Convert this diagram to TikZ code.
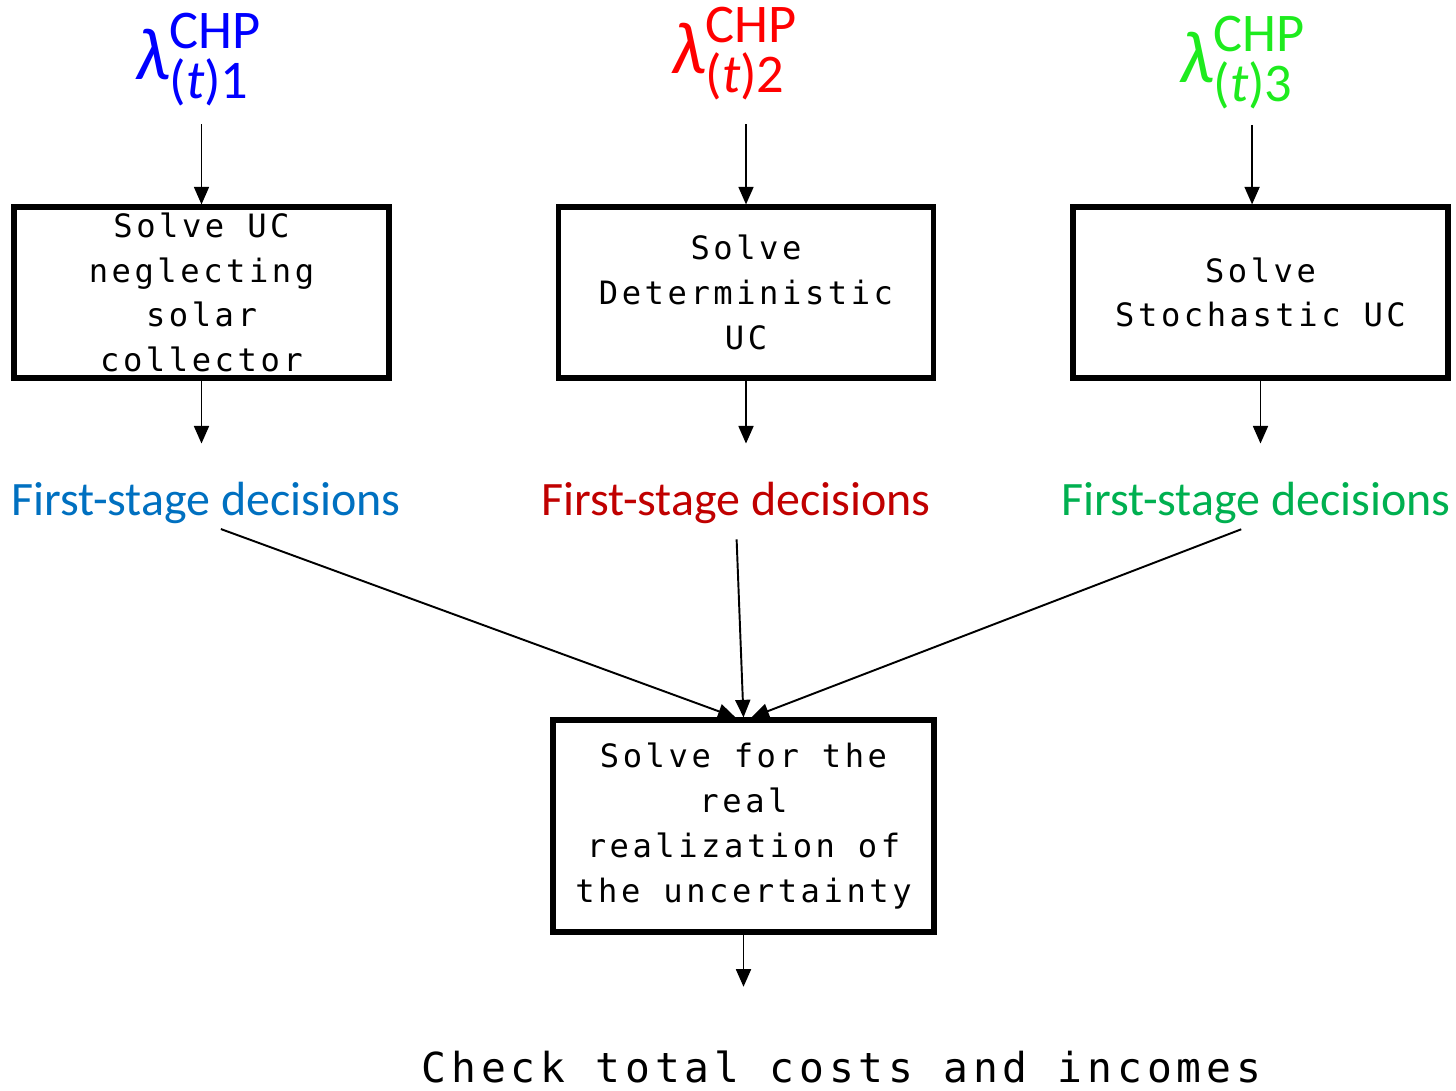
\documentclass[tikz,border=0pt]{standalone}
\usepackage{fontspec}
\usetikzlibrary{arrows.meta}

\setmainfont{Carlito}
\newfontfamily\ucfont[LetterSpace=11]{DejaVu Sans Mono}

\definecolor{lamblue}{RGB}{0,0,255}
\definecolor{lamred}{RGB}{255,0,0}
\definecolor{lamgreen}{RGB}{30,235,30}
\definecolor{decblue}{RGB}{0,112,192}
\definecolor{decred}{RGB}{192,0,0}
\definecolor{decgreen}{RGB}{0,176,80}

% price label lambda^CHP_(t)n
\newcommand{\chplab}[1]{{\fontsize{42pt}{42pt}\selectfont\itshape λ}{\fontsize{31pt}{31pt}\selectfont\rlap{\raisebox{17.6pt}{CHP}}\raisebox{-11.2pt}{(\textit{t})#1}}}

\begin{document}
\begin{tikzpicture}[x=2cm, y=-2cm,
    box/.style={draw, line width=2.9pt, minimum width=7.5cm, minimum height=3.42cm, inner sep=0pt},
    boxtext/.style={align=center, inner sep=0pt, font=\ucfont\fontsize{18.3pt}{25.5pt}\selectfont},
    decision/.style={anchor=base, inner sep=0pt, font=\fontsize{27.3pt}{30pt}\selectfont},
    price/.style={anchor=base west, inner sep=0pt},
    flow/.style={line width=1.1pt, -{Triangle[length=10pt,width=8.5pt]}}]

\useasboundingbox (0,0) rectangle (14.56,10.91);

% -----------------------------
% CHP prices
% -----------------------------
\node[price, text=lamblue]  (lam1) at (1.35,0.79)  {\chplab{1}};
\node[price, text=lamred]   (lam2) at (6.71,0.73)  {\chplab{2}};
\node[price, text=lamgreen] (lam3) at (11.79,0.82) {\chplab{3}};

% -----------------------------
% UC problems
% -----------------------------
\node[box] (uc1) at (2.015,2.925)  {};
\node[box] (uc2) at (7.46,2.925)   {};
\node[box] (uc3) at (12.605,2.925) {};

\node[boxtext] (t1) at (uc1) {Solve UC\\neglecting\\solar\\collector};
\node[boxtext] (t2) at (uc2) {Solve\\Deterministic\\UC};
\node[boxtext] (t3) at (uc3) {Solve\\Stochastic UC};

\coordinate (in3) at ([xshift=-4.8pt]uc3.north);

\draw[flow, shorten <=10pt]   (uc1.north |- lam1.south) -- (uc1.north);
\draw[flow, shorten <=13.4pt] (uc2.north |- lam2.south) -- (uc2.north);
\draw[flow, shorten <=8.7pt]  (in3 |- lam3.south) -- (in3);

% -----------------------------
% first-stage decisions
% -----------------------------
\node[decision, text=decblue]  (fs1) at (2.06,5.15)  {First-stage decisions};
\node[decision, text=decred]   (fs2) at (7.36,5.15)  {First-stage decisions};
\node[decision, text=decgreen] (fs3) at (12.56,5.15) {First-stage decisions};

\draw[flow, shorten >=21.5pt] (uc1.south) -- (uc1.south |- fs1.north);
\draw[flow, shorten >=21.5pt] (uc2.south) -- (uc2.south |- fs2.north);
\draw[flow, shorten >=21.5pt] (uc3.south) -- (uc3.south |- fs3.north);

% -----------------------------
% real realization
% -----------------------------
\node[box, minimum width=7.62cm, minimum height=4.24cm] (real) at (7.435,8.26) {};
\node[boxtext] (t4) at (real) {Solve for the\\real\\realization of\\the uncertainty};

\draw[flow, shorten <=9pt] (fs1.south) -- ([xshift=-4.5pt]real.north);
\draw[flow, shorten <=9pt] (fs2.south) -- (real.north);
\draw[flow, shorten <=9pt] (fs3.south) -- ([xshift=4.5pt]real.north);

% note: final check
\node[anchor=base, inner sep=0pt, font=\ucfont\fontsize{23.5pt}{26pt}\selectfont\addfontfeature{LetterSpace=12}] (check) at (8.415,10.82) {Check total costs and incomes};

\draw[flow, shorten >=36pt] (real.south) -- (real.south |- check.north);

\end{tikzpicture}
\end{document}
